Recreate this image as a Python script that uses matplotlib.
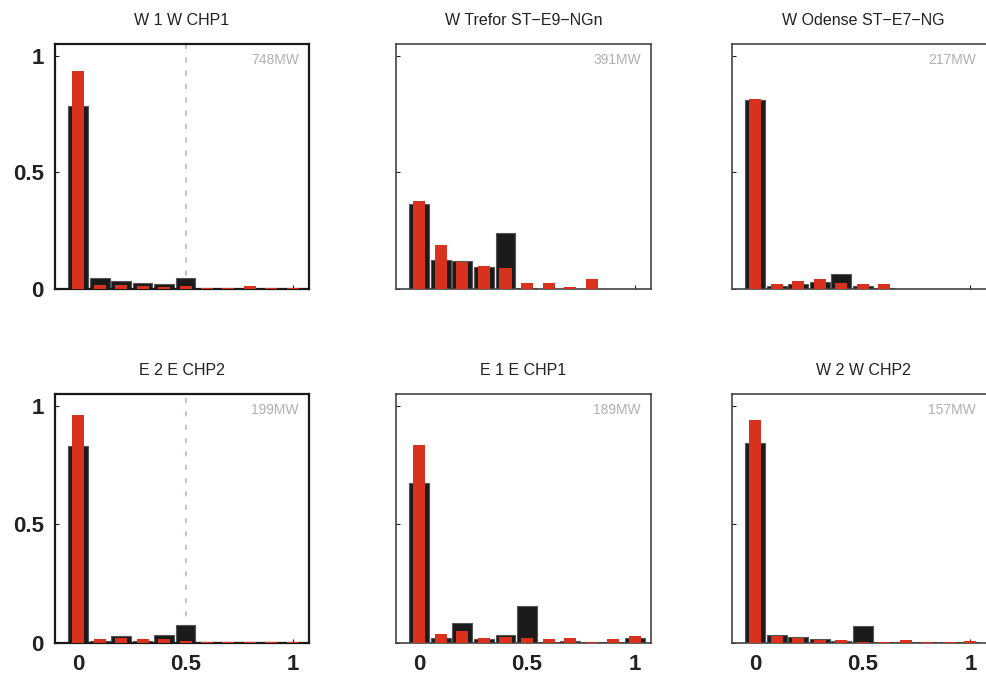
import numpy as np
import matplotlib
matplotlib.use("Agg")
import matplotlib.pyplot as plt

plt.rcParams['font.family'] = ['Liberation Sans', 'DejaVu Sans']

bins = [0.0, 0.1, 0.2, 0.3, 0.4, 0.5, 0.6, 0.7, 0.8, 0.9, 1.0]

titles = ["W 1 W CHP1", "W Trefor ST\u2212E9\u2212NGn", "W Odense ST\u2212E7\u2212NG",
          "E 2 E CHP2", "E 1 E CHP1", "W 2 W CHP2"]
capacity = ["748MW", "391MW", "217MW", "199MW", "189MW", "157MW"]

# black = measured, red = model
black = [
    [0.786, 0.046, 0.036, 0.027, 0.021, 0.046, 0.002, 0.002, 0.002, 0.002, 0.002],
    [0.363, 0.124, 0.121, 0.093, 0.241, 0.003, 0.002, 0.002, 0.002, 0.002, 0.002],
    [0.808, 0.015, 0.020, 0.030, 0.063, 0.012, 0.003, 0.002, 0.002, 0.002, 0.002],
    [0.829, 0.010, 0.029, 0.010, 0.034, 0.076, 0.003, 0.003, 0.003, 0.003, 0.003],
    [0.676, 0.020, 0.085, 0.015, 0.034, 0.155, 0.005, 0.008, 0.004, 0.005, 0.022],
    [0.845, 0.034, 0.025, 0.017, 0.008, 0.070, 0.004, 0.004, 0.004, 0.004, 0.004],
]
red = [
    [0.936, 0.017, 0.017, 0.012, 0.009, 0.012, 0.003, 0.003, 0.012, 0.003, 0.003],
    [0.376, 0.188, 0.117, 0.098, 0.088, 0.024, 0.024, 0.010, 0.041, 0.002, 0.002],
    [0.815, 0.020, 0.033, 0.044, 0.024, 0.020, 0.020, 0.002, 0.002, 0.002, 0.002],
    [0.961, 0.017, 0.020, 0.015, 0.015, 0.010, 0.003, 0.004, 0.003, 0.004, 0.003],
    [0.836, 0.040, 0.052, 0.022, 0.025, 0.022, 0.015, 0.022, 0.004, 0.017, 0.030],
    [0.941, 0.030, 0.020, 0.013, 0.013, 0.005, 0.004, 0.012, 0.006, 0.004, 0.010],
]
show_half_line = [True, False, False, True, False, False]

W, H = 987, 680
fig = plt.figure(figsize=(W / 100, H / 100), dpi=100)

col_left = [55, 396, 732]
col_width = [254, 255, 262]
row_box = [(44, 289), (394, 643)]   # top, bottom in pixels

for k in range(6):
    r, c = divmod(k, 3)
    top, bot = row_box[r]
    ax = fig.add_axes([col_left[c] / W, 1 - bot / H, col_width[c] / W, (bot - top) / H])

    if show_half_line[k]:
        ax.axvline(0.5, color="#b4b4e4", lw=1.2, ls=(0, (3, 5)), zorder=1)

    ax.bar(bins, black[k], width=0.092, color="#1b1b1b", edgecolor="#555555",
           linewidth=0.8, zorder=2)
    ax.bar(bins, red[k], width=0.056, color="#d8321f", edgecolor="none", zorder=3)

    xmax = 1.075 if c < 2 else 1.11
    ax.set_xlim(-0.108, xmax)
    ax.set_ylim(0, 1.05)
    ax.set_title(titles[k], fontsize=11.5, color="#222222", pad=14)
    ax.text(0.96 if c < 2 else 0.93, 0.935, capacity[k], transform=ax.transAxes,
            ha="right", va="center", fontsize=10, color="#b0b0b0")

    ax.set_xticks([0, 0.5, 1])
    ax.set_yticks([0, 0.5, 1])
    ax.set_xticklabels(["0", "0.5", "1"] if r == 1 else [])
    ax.set_yticklabels(["0", "0.5", "1"] if c == 0 else [])
    ax.tick_params(direction="in", length=3, width=0.8, labelsize=16, pad=8,
                   colors="#222222")
    for lab in ax.get_xticklabels() + ax.get_yticklabels():
        lab.set_fontweight("bold")
    for s in ax.spines.values():
        s.set_linewidth(1.6 if c == 0 else 1.2)
        s.set_color("#1a1a1a" if c == 0 else "#444444")

fig.savefig("out.png", dpi=100)
